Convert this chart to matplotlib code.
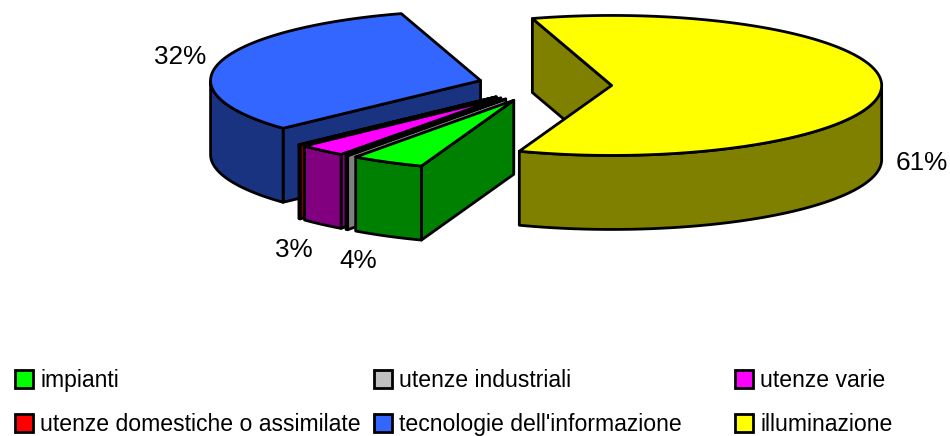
import numpy as np
import matplotlib
matplotlib.use("Agg")
import matplotlib.pyplot as plt
from matplotlib.patches import Polygon, Rectangle

plt.rcParams['font.family'] = ['Liberation Sans', 'DejaVu Sans']

# data, in pie order (clockwise from the start angle)
labels = ["impianti", "utenze industriali", "utenze varie",
          "utenze domestiche o assimilate", "tecnologie dell'informazione", "illuminazione"]
shares = [4.4, 0.12, 2.88, 0.1, 32.2, 60.3]
pct_labels = ["4%", "", "3%", "", "32%", "61%"]
top_colors = ["#00FF00", "#C0C0C0", "#FF00FF", "#FF0000", "#3366FF", "#FFFF00"]
side_colors = ["#008000", "#808080", "#800080", "#800000", "#1A3380", "#808000"]

# pie geometry, pixels
cx, cy = 545, 85
rx, ry = 270, 70
depth = 74
explode = 0.247
start_angle = 250

# where things sit
pct_pos = [(358, 261), None, (294, 250), None, (180, 57), (922, 163)]
legend_x = [15, 374, 735, 15, 374, 735]
legend_y = [379, 379, 379, 423, 423, 423]
line_w = 2.0

fig = plt.figure(figsize=(9.5, 4.36), dpi=100)
ax = fig.add_axes([0, 0, 1, 1])
ax.set_xlim(0, 950)
ax.set_ylim(436, 0)
ax.axis("off")


def pt(ox, oy, t):
    return ox + rx * np.cos(t), oy - ry * np.sin(t)


def draw_slice(t1, t2, top, side):
    mid = (t1 + t2) / 2
    ox = cx + explode * rx * np.cos(mid)
    oy = cy - explode * ry * np.sin(mid)
    ts = np.linspace(t1, t2, 200)
    xs, ys = pt(ox, oy, ts)

    # cut faces that look towards the viewer
    for t, visible in ((t1, np.cos(t1) < 0), (t2, np.cos(t2) > 0)):
        if visible:
            ex, ey = pt(ox, oy, t)
            quad = [(ox, oy), (ex, ey), (ex, ey + depth), (ox, oy + depth)]
            ax.add_patch(Polygon(quad, closed=True, fc=side, ec="black", lw=line_w, joinstyle="round"))

    # outer rim, only the front part
    front = np.sin(ts) <= 0
    if front.any():
        rim = np.column_stack([xs[front], ys[front]])
        low = rim[::-1] + [0, depth]
        ax.add_patch(Polygon(np.vstack([rim, low]), closed=True, fc=side, ec="black", lw=line_w, joinstyle="round"))

    # top face
    face = np.vstack([[ox, oy], np.column_stack([xs, ys])])
    ax.add_patch(Polygon(face, closed=True, fc=top, ec="black", lw=line_w, joinstyle="round"))


angles = start_angle - np.concatenate([[0], np.cumsum(shares)]) * 360 / sum(shares)
angles = np.radians(angles)

# back slices first
for i in [5, 4, 3, 2, 1, 0]:
    draw_slice(angles[i], angles[i + 1], top_colors[i], side_colors[i])

for txt, pos in zip(pct_labels, pct_pos):
    if pos is not None:
        ax.text(pos[0], pos[1], txt, fontsize=18.8, ha="center", va="center", color="black")

# legend, row by row
for i in range(len(labels)):
    ax.add_patch(Rectangle((legend_x[i], legend_y[i] - 9), 18, 18, fc=top_colors[i], ec="black", lw=line_w))
    ax.text(legend_x[i] + 25, legend_y[i] + 1, labels[i], fontsize=16.6, ha="left", va="center", color="black")

fig.savefig("out.png", dpi=100)
